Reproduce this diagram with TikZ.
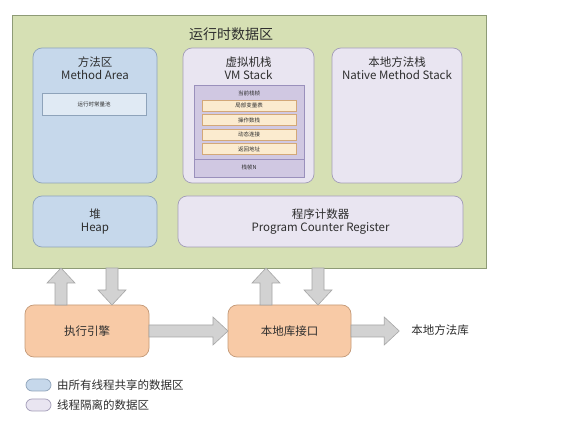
\documentclass[tikz,border=0pt]{standalone}
\usepackage{fontspec}
\setmainfont{Noto Sans CJK SC}
\usetikzlibrary{calc}
\definecolor{gfill}{HTML}{D6E0B4}
\definecolor{gline}{HTML}{8E9B76}
\definecolor{bfill}{HTML}{C6D8EB}
\definecolor{bline}{HTML}{8EA3BA}
\definecolor{lfill}{HTML}{E9E5F1}
\definecolor{lline}{HTML}{A39DB8}
\definecolor{pfill}{HTML}{D0C8E2}
\definecolor{pline}{HTML}{9A90BC}
\definecolor{yfill}{HTML}{FBEBCF}
\definecolor{yline}{HTML}{D3A878}
\definecolor{ofill}{HTML}{F8CAA6}
\definecolor{oline}{HTML}{C49A78}
\definecolor{afill}{HTML}{D2D2D2}
\definecolor{aline}{HTML}{A6A6A6}
\definecolor{txt}{HTML}{2E2E2E}
\newcommand\bigfont{\fontsize{14}{15}\selectfont}
\newcommand\midfont{\fontsize{11.5}{13.5}\selectfont}
\newcommand\tinyfont{\fontsize{5.5}{6.5}\selectfont}
\newcommand\legfont{\fontsize{11.5}{13}\selectfont}
\newcommand\uparr[2]{\draw[barrow] let \p1=(#1),\p2=(#2) in
  (\x1-6pt,\y1) -- (\x1-6pt,\y2-15pt) -- (\x1-14pt,\y2-15pt) -- (\x1,\y2)
  -- (\x1+14pt,\y2-15pt) -- (\x1+6pt,\y2-15pt) -- (\x1+6pt,\y1) -- cycle;}
\newcommand\downarr[2]{\draw[barrow] let \p1=(#1),\p2=(#2) in
  (\x1-6pt,\y1) -- (\x1-6pt,\y2+15pt) -- (\x1-14pt,\y2+15pt) -- (\x1,\y2)
  -- (\x1+14pt,\y2+15pt) -- (\x1+6pt,\y2+15pt) -- (\x1+6pt,\y1) -- cycle;}
\newcommand\rightarr[2]{\draw[barrow] let \p1=(#1),\p2=(#2) in
  (\x1,\y1+6pt) -- (\x2-15pt,\y1+6pt) -- (\x2-15pt,\y1+14pt) -- (\x2,\y1)
  -- (\x2-15pt,\y1-14pt) -- (\x2-15pt,\y1-6pt) -- (\x1,\y1-6pt) -- cycle;}
\begin{document}
\begin{tikzpicture}[x=1pt,y=-1pt,
  every node/.style={text=txt, inner sep=0pt, outer sep=0pt},
  outer/.style={draw=gline, fill=gfill, line width=0.8pt, anchor=north west},
  blue/.style={draw=bline, fill=bfill, line width=0.7pt, rounded corners=9pt, anchor=north west},
  lav/.style={draw=lline, fill=lfill, line width=0.7pt, rounded corners=9pt, anchor=north west},
  orng/.style={draw=oline, fill=ofill, line width=0.7pt, rounded corners=9pt, anchor=north west, font=\midfont},
  captext/.style={align=center, font=\midfont, anchor=north},
  inbox/.style={draw=bline, fill=bfill!55!white, line width=0.6pt, anchor=north west, font=\tinyfont},
  row/.style={draw=yline, fill=yfill, line width=0.5pt, anchor=north west, minimum width=94pt, minimum height=11pt, font=\tinyfont},
  barrow/.style={draw=aline, fill=afill, line width=0.6pt, line join=miter},
  legbox/.style={line width=0.7pt, rounded corners=6pt, minimum width=25pt, minimum height=12pt, anchor=north west}]
\useasboundingbox (0,0) rectangle (565,427);
\fill[white] (0,0) rectangle (565,427);

% runtime data area
\node[outer, minimum width=474pt, minimum height=253pt] (rt) at (12,15) {};
\node[font=\bigfont] (rttitle) at (231,34.5) {运行时数据区};

% method area
\node[blue, minimum width=124pt, minimum height=135pt] (ma) at (33,48) {};
\node[captext] (matitle) at ($(ma.north)+(0,8.5)$) {方法区\\Method Area};
\node[inbox, minimum width=104pt, minimum height=22pt] (pool) at (42,93) {运行时常量池};

% VM stack
\node[lav, minimum width=131pt, minimum height=135pt] (vm) at (183,48) {};
\node[captext] (vmtitle) at ($(vm.north)+(0,8.5)$) {虚拟机栈\\VM Stack};
\node[draw=pline, fill=pfill, line width=0.6pt, anchor=north west, minimum width=110pt, minimum height=92pt] (frame) at (194,85) {};
\node[font=\tinyfont] (cur) at (249,93) {当前栈帧};
\node[row] (r1) at (202,100) {局部变量表};
\node[row] (r2) at (202,114.5) {操作数栈};
\node[row] (r3) at (202,129) {动态连接};
\node[row] (r4) at (202,143.5) {返回地址};
\draw[pline, line width=0.5pt] (frame.west |- 0,159) -- (frame.east |- 0,159);
\node[font=\tinyfont] (fn) at (249,167.5) {栈帧N};

% native method stack
\node[lav, minimum width=130pt, minimum height=135pt] (nms) at (332,48) {};
\node[captext] (nmstitle) at ($(nms.north)+(0,8.5)$) {本地方法栈\\Native Method Stack};

% heap and pc
\node[blue, minimum width=124pt, minimum height=51pt, align=center, font=\midfont] (heap) at (33,196) {堆\\Heap};
\node[lav, minimum width=285pt, minimum height=51pt, align=center, font=\midfont] (pc) at (178,196) {程序计数器\\Program Counter Register};

% engine and native interface
\node[orng, minimum width=124pt, minimum height=52pt] (exec) at (25,305) {执行引擎};
\node[orng, minimum width=123pt, minimum height=52pt] (nli) at (228,305) {本地库接口};
\node[font=\midfont] (nlib) at (440,330) {本地方法库};

% block arrows
\uparr{$(exec.north west)+(36,0)$}{rt.south}
\downarr{$(exec.north west |- rt.south)+(87,0)$}{exec.north}
\uparr{$(nli.north west)+(38,0)$}{rt.south}
\downarr{$(nli.north west |- rt.south)+(90,0)$}{nli.north}
\rightarr{exec.east}{nli.west}
\rightarr{nli.east}{$(nlib.west)+(-12,0)$}

% legend
\node[legbox, draw=bline, fill=bfill] (lg1) at (26,379) {};
\node[font=\legfont, anchor=west] (lt1) at ($(lg1.east)+(6,0)$) {由所有线程共享的数据区};
\node[legbox, draw=lline, fill=lfill] (lg2) at (26,399) {};
\node[font=\legfont, anchor=west] (lt2) at ($(lg2.east)+(6,0)$) {线程隔离的数据区};
\end{tikzpicture}
\end{document}
